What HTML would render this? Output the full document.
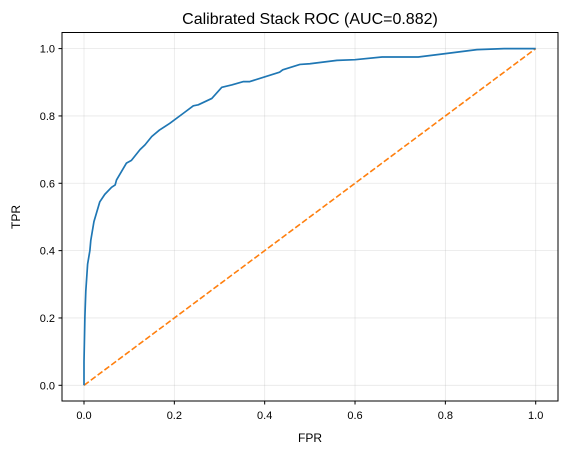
<!DOCTYPE html>
<html><head><meta charset="utf-8"><style>
body{margin:0;background:#fff}
svg{display:block;font-family:"Liberation Sans","DejaVu Sans",sans-serif}
</style></head><body>
<svg id="chart" width="567" height="455" viewBox="0 0 567 455" xmlns="http://www.w3.org/2000/svg">
<rect width="567" height="455" fill="#fff"/>
<text x="310" y="24" font-size="16" text-anchor="middle" fill="#000">Calibrated Stack ROC (AUC=0.882)</text>
<g id="grid"></g>
<g id="ticks"></g>
<g id="lines"></g>
<rect x="62" y="32.5" width="496" height="368.5" fill="none" stroke="#000" stroke-width="1"/>
<text x="310" y="442" font-size="12" text-anchor="middle">FPR</text>
<text x="20" y="217" font-size="12" text-anchor="middle" transform="rotate(-90 20 217)">TPR</text>
</svg>
<script>
const fpr=[0,0,0.002,0.004,0.008,0.013,0.015,0.022,0.035,0.046,0.061,0.069,0.072,0.094,0.105,0.124,0.135,0.15,0.167,0.19,0.22,0.242,0.253,0.283,0.305,0.327,0.353,0.367,0.433,0.44,0.478,0.5,0.56,0.6,0.66,0.74,0.8,0.87,0.93,1];
const tpr=[0,0.07,0.204,0.28,0.36,0.40,0.43,0.486,0.545,0.567,0.588,0.595,0.61,0.66,0.668,0.70,0.714,0.739,0.758,0.778,0.808,0.83,0.833,0.852,0.885,0.892,0.902,0.902,0.93,0.937,0.953,0.955,0.965,0.967,0.975,0.975,0.985,0.997,1,1];
const diagX=[0,1];
const diagY=[0,1];
const ticks=[0,0.2,0.4,0.6,0.8,1.0];
const tickLabels=["0.0","0.2","0.4","0.6","0.8","1.0"];
const NS="http://www.w3.org/2000/svg";
const sx=v=>84+v*451.7, sy=v=>385.3-v*336.7;
const g=document.getElementById('grid'),t=document.getElementById('ticks'),L=document.getElementById('lines');
function mk(tag,attrs,parent){const e=document.createElementNS(NS,tag);for(const k in attrs)e.setAttribute(k,attrs[k]);parent.appendChild(e);return e;}
ticks.forEach((v,i)=>{
  const gx=mk('line',{x1:sx(v),x2:sx(v),y1:32.5,y2:401,stroke:'#b0b0b0','stroke-opacity':0.3,'stroke-width':0.8},g);
  
  
  const gy=mk('line',{x1:62,x2:558,y1:sy(v),y2:sy(v),stroke:'#b0b0b0','stroke-opacity':0.3,'stroke-width':0.8},g);
  
  
  mk('line',{x1:sx(v),x2:sx(v),y1:401,y2:404.5,stroke:'#000'},t);
  mk('line',{x1:58.5,x2:62,y1:sy(v),y2:sy(v),stroke:'#000'},t);
  const xl=mk('text',{x:sx(v),y:419,'font-size':11,'text-anchor':'middle'},t);xl.textContent=tickLabels[i];
  
  
  const yl=mk('text',{x:55,y:sy(v)+4,'font-size':11,'text-anchor':'end'},t);yl.textContent=tickLabels[i];
  
  
});
const d=mk('polyline',{points:diagX.map((x,i)=>sx(x)+','+sy(diagY[i])).join(' '),fill:'none',stroke:'#ff7f0e','stroke-width':1.6,'stroke-dasharray':'6,2.5'},L);


const r=mk('polyline',{points:fpr.map((x,i)=>sx(x)+','+sy(tpr[i])).join(' '),fill:'none',stroke:'#1f77b4','stroke-width':1.7,'stroke-linejoin':'round'},L);


</script>
</body></html>
